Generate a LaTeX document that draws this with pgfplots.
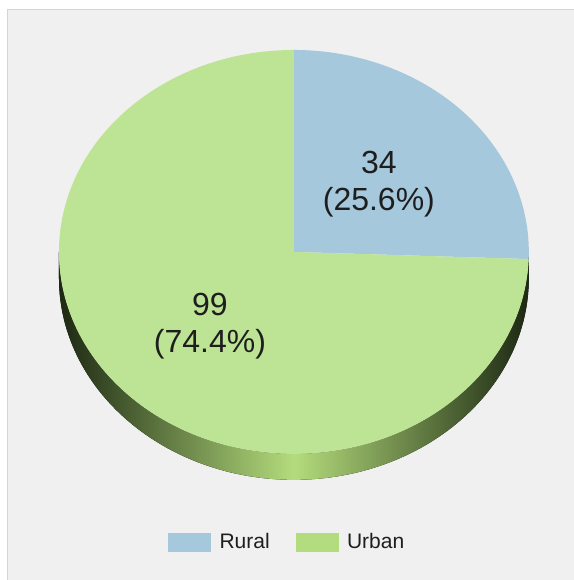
\documentclass[border=0pt]{standalone}
\usepackage{pgfplots}
\pgfplotsset{compat=1.18}
\usepackage{pgfplotstable}
\usepackage{fontspec}
\setmainfont{Liberation Sans}

\definecolor{rural}{HTML}{A6C8DD}
\definecolor{urban}{HTML}{BDE394}
\definecolor{urbankey}{HTML}{B2DC7E}
\definecolor{bg}{HTML}{F0F0F0}
\definecolor{framegray}{HTML}{D4D4D4}
\definecolor{sidedark}{HTML}{1C2812}
\definecolor{sidelight}{HTML}{B4DC7C}
\definecolor{labeltext}{HTML}{1E1E1E}

\pgfplotstableread{
area count
Rural 34
Urban 99
}\areatable

\begin{document}
\begin{tikzpicture}
    \pgfplotstablegetelem{0}{count}\of\areatable \edef\nrural{\pgfplotsretval}
    \pgfplotstablegetelem{1}{count}\of\areatable \edef\nurban{\pgfplotsretval}
    \pgfmathsetmacro\total{\nrural+\nurban}
    \pgfmathsetmacro\split{90-360*\nrural/\total}
    \pgfmathsetmacro\urbanend{\split+360}
    \pgfmathsetmacro\prural{100*\nrural/\total}
    \pgfmathsetmacro\purban{100*\nurban/\total}
    \begin{axis}[
        width=574pt, height=580pt, scale only axis,
        xmin=0, xmax=574, ymin=0, ymax=580,
        hide axis, clip=false,
        legend columns=-1,
        legend style={at={(axis cs:168,38)}, anchor=west, draw=none, fill=none, inner sep=0pt,
            font=\fontsize{21}{23}\selectfont, text=labeltext,
            /tikz/every even column/.append style={column sep=24pt},
            /tikz/every odd column/.append style={column sep=7pt}},
    ]
        % background panel
        \fill[white] (axis cs:0,0) rectangle (axis cs:574,580);
        \fill[bg] (axis cs:7,0) rectangle (axis cs:574,571);
        \draw[framegray] (axis cs:7,0) -- (axis cs:7,571) -- (axis cs:574,571);

        % side of the disc
        \fill[left color=sidedark, right color=sidedark, middle color=sidelight]
            (axis cs:59,328) arc[start angle=180, end angle=360, x radius=235pt, y radius=202pt]
            -- ++(0pt,-26pt)
            arc[start angle=360, end angle=180, x radius=235pt, y radius=202pt] -- cycle;

        % slices
        \fill[rural] (axis cs:294,328) -- (axis cs:294,530)
            arc[start angle=90, end angle=\split, x radius=235pt, y radius=202pt] -- cycle;
        \fill[urban] (axis cs:294,328) -- (axis cs:294,530)
            arc[start angle=90, end angle=\urbanend, x radius=235pt, y radius=202pt] -- cycle;

        % slice labels
        \node[align=center, text=labeltext, font=\fontsize{32}{37}\selectfont]
            at (axis cs:379,396) {\nrural\\(\pgfmathprintnumber[fixed,fixed zerofill,precision=1,assume math mode=true]{\prural}\%)};
        \node[align=center, text=labeltext, font=\fontsize{32}{37}\selectfont]
            at (axis cs:210,254) {\nurban\\(\pgfmathprintnumber[fixed,fixed zerofill,precision=1,assume math mode=true]{\purban}\%)};

        \addlegendimage{legend image code/.code={\fill[rural] (0pt,-9pt) rectangle (42pt,9pt);}}
        \addlegendentry{Rural}
        \addlegendimage{legend image code/.code={\fill[urbankey] (0pt,-9pt) rectangle (42pt,9pt);}}
        \addlegendentry{Urban}
    \end{axis}
\end{tikzpicture}
\end{document}
